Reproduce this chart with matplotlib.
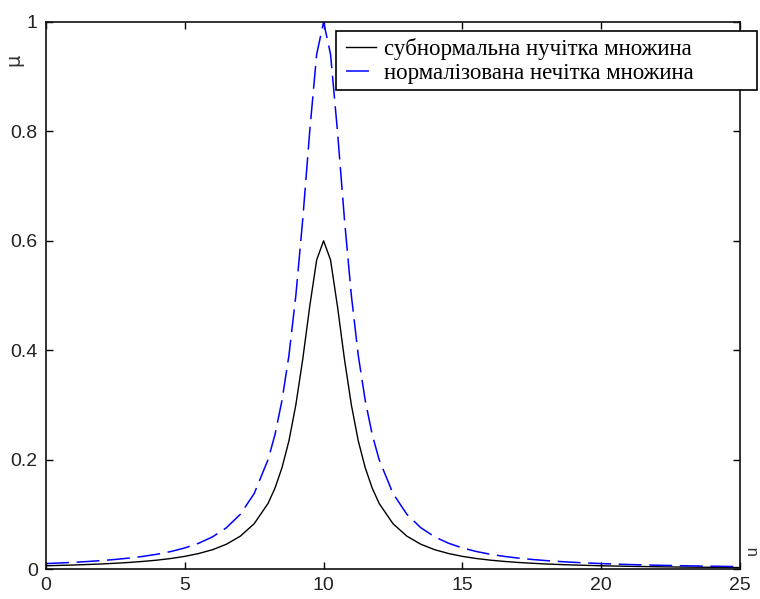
import matplotlib
matplotlib.use('Agg')
import matplotlib.pyplot as plt
from matplotlib.patches import Rectangle

# membership values
u = [0, 0.5, 1, 1.5, 2, 2.5, 3, 3.5, 4, 4.5, 5, 5.5, 6, 6.5, 7, 7.5, 8,
     8.25, 8.5, 8.75, 9, 9.25, 9.5, 9.75, 10, 10.25, 10.5, 10.75, 11,
     11.25, 11.5, 11.75, 12, 12.5, 13, 13.5, 14, 14.5, 15, 15.5, 16, 16.5,
     17, 17.5, 18, 18.5, 19, 19.5, 20, 20.5, 21, 21.5, 22, 22.5, 23, 23.5,
     24, 24.5, 25]

mu_normal = [0.0099, 0.011, 0.0122, 0.0137, 0.0154, 0.0175, 0.020, 0.0231,
             0.027, 0.032, 0.0385, 0.0471, 0.0588, 0.0755, 0.100, 0.138, 0.200,
             0.246, 0.308, 0.390, 0.500, 0.640, 0.800, 0.941, 1.000, 0.941,
             0.800, 0.640, 0.500, 0.390, 0.308, 0.246, 0.200, 0.138, 0.100,
             0.0755, 0.0588, 0.0471, 0.0385, 0.032, 0.027, 0.0231, 0.020,
             0.0175, 0.0154, 0.0137, 0.0122, 0.011, 0.0099, 0.009, 0.0082,
             0.0075, 0.0069, 0.0064, 0.0059, 0.0055, 0.0051, 0.0047, 0.0044]

mu_sub = [0.0059, 0.0066, 0.0073, 0.0082, 0.0092, 0.0105, 0.012, 0.0139,
          0.0162, 0.0192, 0.0231, 0.0283, 0.0353, 0.0453, 0.060, 0.0828, 0.120,
          0.148, 0.185, 0.234, 0.300, 0.384, 0.480, 0.565, 0.600, 0.565,
          0.480, 0.384, 0.300, 0.234, 0.185, 0.148, 0.120, 0.0828, 0.060,
          0.0453, 0.0353, 0.0283, 0.0231, 0.0192, 0.0162, 0.0139, 0.012,
          0.0105, 0.0092, 0.0082, 0.0073, 0.0066, 0.0059, 0.0054, 0.0049,
          0.0045, 0.0041, 0.0038, 0.0035, 0.0033, 0.0031, 0.0028, 0.0026]

labels = ['субнормальна нучітка множина', 'нормалізована нечітка множина']

W, H = 760, 599
fig = plt.figure(figsize=(W / 100, H / 100), dpi=100)
ax = fig.add_axes([46 / W, 1 - 569 / H, (740 - 46) / W, (569 - 22) / H])

ax.plot(u, mu_sub, color='black', lw=1.0, label=labels[0])
ax.plot(u, mu_normal, color='blue', lw=1.1, dashes=(15, 5), label=labels[1])

ax.set_xlim(0, 25)
ax.set_ylim(0, 1)
ax.set_xticks([0, 5, 10, 15, 20, 25])
ax.set_yticks([0, 0.2, 0.4, 0.6, 0.8, 1])
ax.set_yticklabels(['0', '0.2', '0.4', '0.6', '0.8', '1'])
ax.tick_params(direction='in', top=True, right=True, length=5, width=1,
               labelsize=14, pad=6)
for lab in ax.get_xticklabels() + ax.get_yticklabels():
    lab.set_family('Liberation Sans')
    lab.set_color('#222222')
for sp in ax.spines.values():
    sp.set_linewidth(1.2)
    sp.set_color('#111111')

fig.text(14 / W, 1 - 60 / H, 'μ', rotation=90, fontsize=14,
         family='DejaVu Sans', ha='center', va='center', color='#333333')
fig.text(752 / W, 1 - 550 / H, 'u', rotation=90, fontsize=12,
         family='Liberation Sans', ha='center', va='center', color='#333333')

# legend box (drawn by hand, it sticks out past the axes)
box = Rectangle((336 / W, 1 - 90 / H), (757 - 336) / W, (90 - 31) / H,
                transform=fig.transFigure, facecolor='white',
                edgecolor='black', linewidth=1.2, zorder=3)
fig.patches.append(box)

leg = fig.legend(loc='upper left', bbox_to_anchor=(346 / W, 1 - 38 / H),
                 prop={'family': 'Liberation Serif', 'size': 16.5},
                 frameon=False, handlelength=1.3, handletextpad=0.35,
                 borderpad=0, labelspacing=0.12, borderaxespad=0)
leg.set_zorder(5)

fig.savefig('out.png', dpi=100)
